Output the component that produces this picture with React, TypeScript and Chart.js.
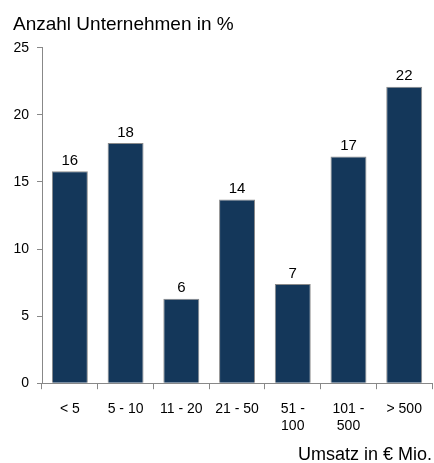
import React, { useEffect, useRef } from "react";
import { Chart, registerables } from "chart.js";

Chart.register(...registerables);

const categories: (string | string[])[] = ["< 5", "5 - 10", "11 - 20", "21 - 50", ["51 -", "100"], ["101 -", "500"], "> 500"];
const values: number[] = [15.8, 17.9, 6.3, 13.7, 7.4, 16.9, 22.1];
const valueLabels: string[] = ["16", "18", "6", "14", "7", "17", "22"];
const yTitle = "Anzahl Unternehmen in %";
const xTitle = "Umsatz in € Mio.";

const FONT = "'Liberation Sans', Arial, sans-serif";

const labelPlugin = {
  id: "valueLabels",
  afterDatasetsDraw(chart: any) {
    const ctx = chart.ctx;
    const meta = chart.getDatasetMeta(0);
    ctx.save();
    ctx.font = `15px ${FONT}`;
    ctx.fillStyle = "#000";
    ctx.textAlign = "center";
    ctx.textBaseline = "bottom";
    meta.data.forEach((bar: any, i: number) => {
      ctx.fillText(valueLabels[i], bar.x, bar.y - 3);
    });
    ctx.restore();
  },
};

export default function App() {
  const ref = useRef<HTMLCanvasElement>(null);
  useEffect(() => {
    document.body.style.margin = "0";
    const chart = new Chart(ref.current!, {
      type: "bar",
      data: {
        labels: categories,
        datasets: [
          {
            data: values,
            backgroundColor: "#14375a",
            borderColor: "#8a8a8a",
            borderWidth: 1,
            barPercentage: 0.645,
            categoryPercentage: 1,
          },
        ],
      },
      options: {
        responsive: false,
        animation: false,
        layout: { padding: { left: 13, right: 1, top: 0, bottom: 0 } },
        plugins: {
          legend: { display: false },
          tooltip: { enabled: false },
          title: {
            display: true,
            text: yTitle,
            align: "start",
            color: "#000",
            font: { family: FONT, size: 19, weight: "normal" },
            padding: { top: 13, bottom: 12 },
          },
        },
        scales: {
          x: {
            grid: { offset: true, drawOnChartArea: false, tickLength: 6, color: "#888" },
            border: { color: "#888" },
            ticks: { color: "#000", font: { family: FONT, size: 14 }, maxRotation: 0, autoSkip: false, padding: 12 },
            title: {
              display: true,
              text: xTitle,
              align: "end",
              color: "#000",
              font: { family: FONT, size: 18, lineHeight: 0.9 },
              padding: { top: 0, bottom: 0 },
            },
          },
          y: {
            min: 0,
            max: 25,
            ticks: { stepSize: 5, color: "#000", font: { family: FONT, size: 14 }, padding: 8 },
            grid: { drawOnChartArea: false, tickLength: 5, color: "#888" },
            border: { color: "#888" },
            afterFit: (scale: any) => {
              scale.width = 29;
            },
          },
        },
      },
      plugins: [labelPlugin],
    });
    return () => chart.destroy();
  }, []);
  return (
    <div style={{ width: 434, height: 463 }}>
      <canvas ref={ref} width={434} height={463} />
    </div>
  );
}
